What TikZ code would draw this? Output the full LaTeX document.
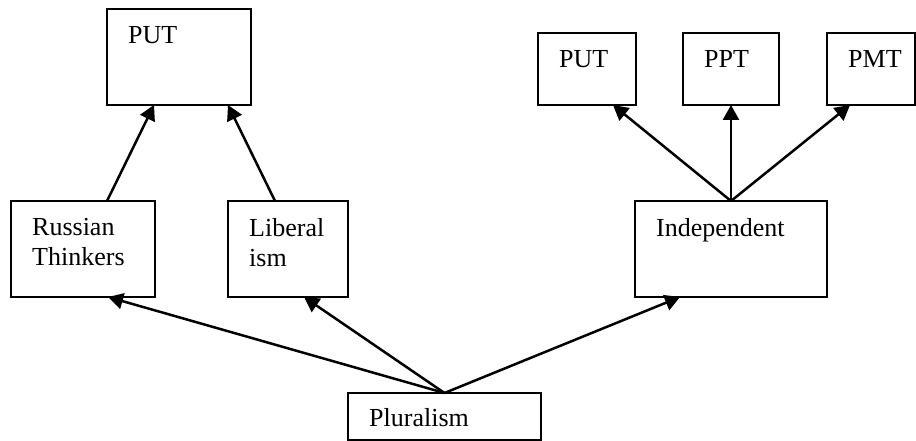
\documentclass[tikz,border=0pt]{standalone}
\usepackage{fontspec}
\setmainfont{Liberation Serif}
\usetikzlibrary{arrows.meta, calc}

\begin{document}
\begin{tikzpicture}[x=1pt, y=-1pt,
    box/.style={draw=black, line width=2pt, rectangle, anchor=north west,
                inner sep=0pt, outer sep=0pt},
    boxtext/.style={anchor=north west, align=left, inner xsep=21pt, inner ysep=17.5pt,
                font=\fontsize{26pt}{30pt}\selectfont},
    link/.style={-{Triangle[length=15pt, width=16pt]}, line width=2.5pt}]
            \useasboundingbox (0,0) rectangle (916,441);

            % Left target box
            \node[box, minimum width=144pt, minimum height=96pt] (putL) at (107,9) {};
            \node[boxtext] (putL-txt) at (putL.north west) {PUT};

            % Left middle boxes
            \node[box, minimum width=144pt, minimum height=96pt] (rus) at (11,201) {};
            \node[boxtext] (rus-txt) at (rus.north west) {Russian\\Thinkers};
            \node[box, minimum width=120pt, minimum height=96pt] (lib) at (228,201) {};
            \node[boxtext] (lib-txt) at (lib.north west) {Liberal\\ism};

            % Right branch boxes
            \node[box, minimum width=192pt, minimum height=96pt] (ind) at (635,201) {};
            \node[boxtext] (ind-txt) at (ind.north west) {Independent};
            \foreach \name/\x/\w/\txt in {putR/538/98/PUT, ppt/683/96/PPT, pmt/827/88/PMT} {
                \node[box, minimum width=\w pt, minimum height=72pt] (\name) at (\x,33) {};
                \node[boxtext] (\name-txt) at (\name.north west) {\txt};
            }

            % Root box
            \node[box, minimum width=193pt, minimum height=47pt] (plu) at (348,393) {};
            \node[boxtext, inner ysep=15.5pt] (plu-txt) at (plu.north west) {Pluralism};

            % Arrows into the left target
            \draw[link] ([xshift=96pt]rus.north west) -- ([xshift=47pt]putL.south west);
            \draw[link] ([xshift=47pt]lib.north west) -- ([xshift=121pt]putL.south west);

            % Arrows out of Independent
            \draw[link] (ind.north) -- ([xshift=75pt]putR.south west);
            \draw[link] (ind.north) -- (ppt.south);
            \draw[link] (ind.north) -- ([xshift=23pt]pmt.south west);

            % Arrows out of Pluralism
            \draw[link] (plu.north) -- ([xshift=97pt]rus.south west);
            \draw[link] (plu.north) -- ([xshift=76pt]lib.south west);
            \draw[link] (plu.north) -- ([xshift=45pt]ind.south west);
        \end{tikzpicture}
\end{document}
